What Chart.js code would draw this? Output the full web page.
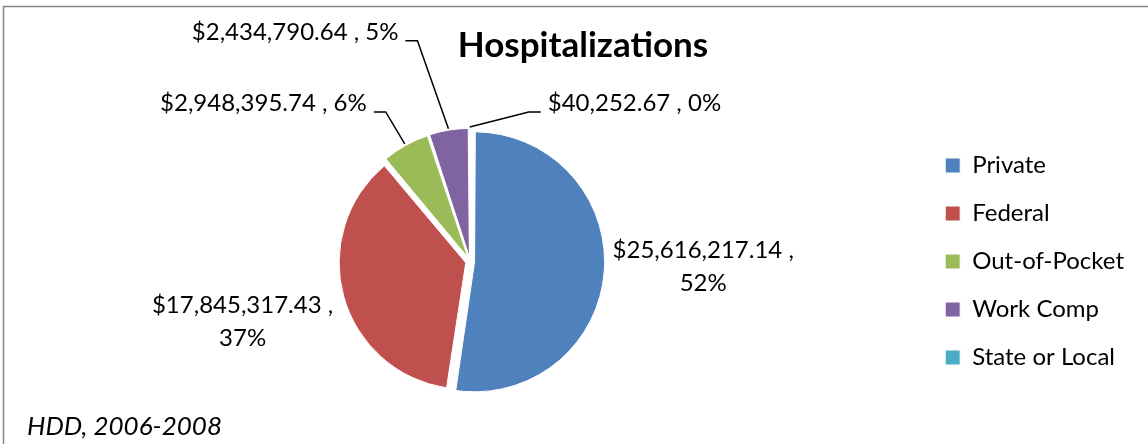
<!DOCTYPE html>
<html>
<head>
<title>Hospitalizations</title>
<script src="https://cdn.jsdelivr.net/npm/chart.js@4.4.0/dist/chart.umd.min.js"></script>
<style>
	body { margin: 0; background: #fff; }
	#box { position: relative; width: 1148px; height: 444px; }
</style>
</head>
<body>
<div id="box"><canvas id="myChart"></canvas></div>

<script type="text/javascript">
// data
let payers = ['Private', 'Federal', 'Out-of-Pocket', 'Work Comp', 'State or Local'];
let costs = [25616217.14, 17845317.43, 2948395.74, 2434790.64, 40252.67];
let sliceColors = ['#4F81BD', '#C0504D', '#9BBB59', '#8064A2', '#4BACC6'];
let chartTitle = 'Hospitalizations';
let footNote = 'HDD, 2006-2008';

// where each label sits, relative to the point on the slice edge
// side: 'c' centered, 'r' text ends at dx, 'l' text starts at dx
let labelSpots = [
	{dx: 99, dy: -14, side: 'c', wrap: true, leader: false},
	{dx: -98, dy: 15, side: 'c', wrap: true, leader: false},
	{dx: -38, dy: -33, side: 'r', wrap: false, leader: true},
	{dx: -50, dy: -89, side: 'r', wrap: false, leader: true},
	{dx: 78, dy: -16, side: 'l', wrap: false, leader: true}
];

let labelFont = '24px Lato';

function money(v){
	return '$' + v.toLocaleString('en-US', {minimumFractionDigits: 2, maximumFractionDigits: 2});
}

let total = costs.reduce((a, b) => a + b, 0);

let sliceLabels = {
	id: 'sliceLabels',
	afterDatasetsDraw(chart){
		let ctx = chart.ctx;
		let meta = chart.getDatasetMeta(0);
		ctx.save();
		ctx.font = labelFont;
		ctx.fillStyle = '#000';
		ctx.strokeStyle = '#000';
		ctx.lineWidth = 1.5;
		ctx.textBaseline = 'alphabetic';
		meta.data.forEach((arc, i) => {
			let p = arc.getProps(['x', 'y', 'startAngle', 'endAngle', 'outerRadius'], true);
			let mid = (p.startAngle + p.endAngle) / 2;
			// chart.js moves a slice by offset/4 and grows it by offset/4
			let r = p.outerRadius + (arc.options.offset || 0) / 2;
			let ax = p.x + Math.cos(mid) * r;
			let ay = p.y + Math.sin(mid) * r;
			let spot = labelSpots[i];
			let pct = Math.round(costs[i] / total * 100) + '%';
			let tx = ax + spot.dx;
			let ty = ay + spot.dy;
			if (spot.wrap){
				ctx.textAlign = 'center';
				ctx.fillText(money(costs[i]) + ' ,', tx, ty);
				ctx.fillText(pct, tx, ty + 33);
			} else {
				let txt = money(costs[i]) + ' , ' + pct;
				ctx.textAlign = spot.side == 'r' ? 'right' : 'left';
				ctx.fillText(txt, tx, ty);
			}
			if (spot.leader){
				let sgn = spot.side == 'r' ? 1 : -1;
				let x1 = tx + sgn * 7;
				let x2 = tx + sgn * 19;
				ctx.beginPath();
				ctx.moveTo(x1, ty + 1);
				ctx.lineTo(x2, ty + 1);
				ctx.lineTo(ax, ay);
				ctx.stroke();
			}
		});
		ctx.restore();
	}
};

let frame = {
	id: 'frame',
	afterDraw(chart){
		let ctx = chart.ctx;
		ctx.save();
		ctx.strokeStyle = '#878787';
		ctx.lineWidth = 1.5;
		ctx.strokeRect(3.5, 6.5, 1200, 500);
		ctx.fillStyle = '#000';
		ctx.textBaseline = 'alphabetic';
		ctx.font = 'bold 35px Lato';
		ctx.textAlign = 'center';
		ctx.fillText(chartTitle, 583, 57);
		ctx.font = 'italic 26px Lato';
		ctx.textAlign = 'left';
		ctx.fillText(footNote, 27, 435);
		ctx.restore();
	}
};

let myChart = new Chart(document.getElementById('myChart'), {
	type: 'pie',
	data: {
		labels: payers,
		datasets: [{
			data: costs,
			backgroundColor: sliceColors,
			borderColor: '#fff',
			borderWidth: 1,
			offset: 18
		}]
	},
	options: {
		responsive: true,
		maintainAspectRatio: false,
		animation: false,
		radius: 125.5,
		layout: {padding: {left: 19, right: 14, top: 90, bottom: 11}},
		plugins: {
			tooltip: {enabled: false},
			legend: {
				position: 'right',
				labels: {
					boxWidth: 15,
					boxHeight: 15,
					padding: 24,
					color: '#000',
					font: {family: 'Lato', size: 24}
				}
			}
		}
	},
	plugins: [sliceLabels, frame]
});
</script>
</body>
</html>
